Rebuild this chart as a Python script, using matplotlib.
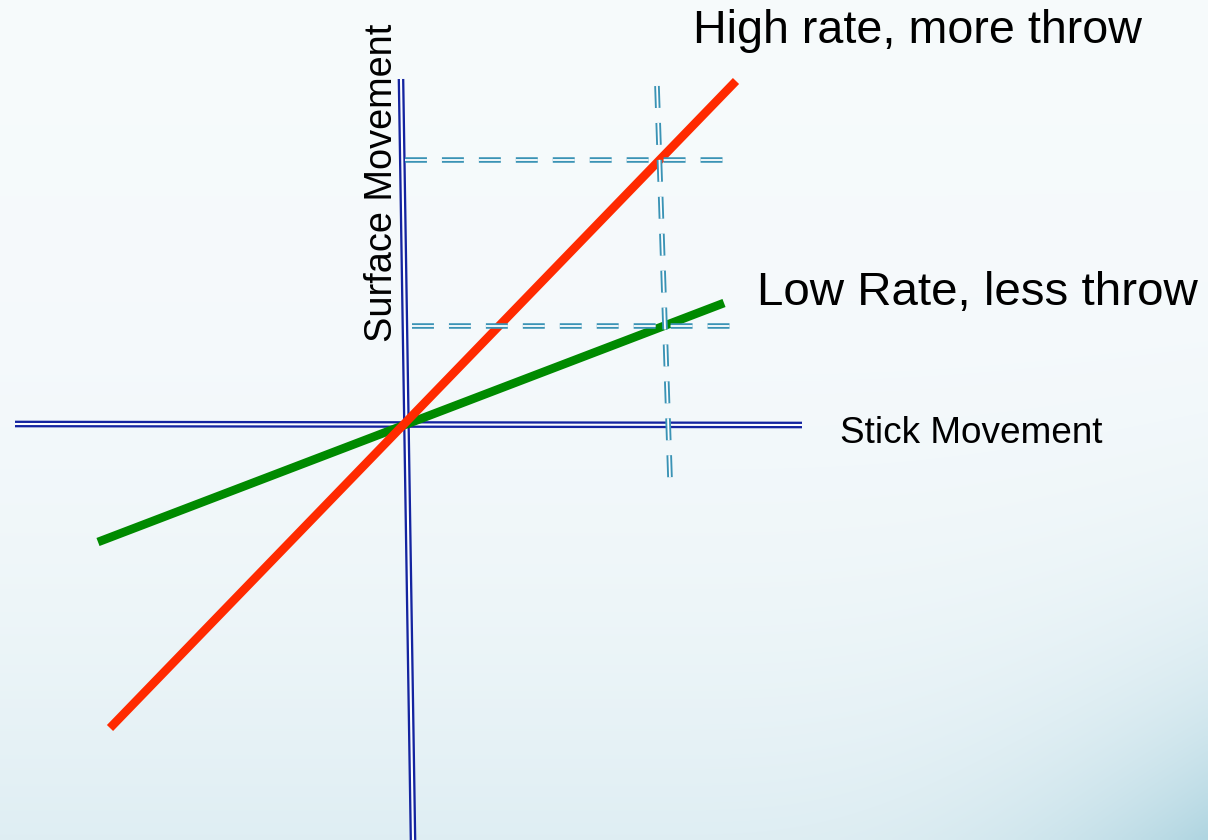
import numpy as np
import matplotlib.pyplot as plt

plt.rcParams['font.family'] = ['Liberation Sans', 'DejaVu Sans']
plt.rcParams['lines.scale_dashes'] = False

W, H = 1208, 840

# axes of the diagram (pixel coords, y down)
stick_axis_x = [15, 802]
stick_axis_y = [424, 425]
surface_axis_x = [401, 413]
surface_axis_y = [79, 840]

# response lines
high_x = [110, 736]
high_y = [728, 81]
low_x = [98, 724]
low_y = [542, 303]

# dashed guides
guide_v_x = [657, 670]
guide_v_y = [86, 478]
guide_high_x = [405, 726]
guide_high_y = [160, 160]
guide_low_x = [412, 734]
guide_low_y = [326, 326]

# labels
title_high = "High rate, more throw"
title_low = "Low Rate, less throw"
xlabel = "Stick Movement"
ylabel = "Surface Movement"

fig = plt.figure(figsize=(W / 100, H / 100), dpi=100)
ax = fig.add_axes([0, 0, 1, 1])
ax.set_xlim(0, W)
ax.set_ylim(H, 0)
ax.axis('off')

# soft background gradient
yy, xx = np.mgrid[0:1:200j, 0:1:300j]
w = 0.3 * yy**3 + 0.6 * np.clip((xx - 0.55) / 0.45, 0, 1)**3 * yy**5
c0 = np.array([0.965, 0.981, 0.988])
c1 = np.array([0.66, 0.82, 0.87])
bg = c0[None, None, :] * (1 - w[..., None]) + c1[None, None, :] * w[..., None]
ax.imshow(bg, extent=[0, W, H, 0], aspect='auto', zorder=0, interpolation='bilinear')

blue = '#1424a0'
teal = '#3a93b5'

def double_line(x, y, color, outer, inner, dashes=None, z=2):
    a, = ax.plot(x, y, color=color, lw=outer, zorder=z, solid_capstyle='butt')
    b, = ax.plot(x, y, color='white', lw=inner, zorder=z + 0.1, solid_capstyle='butt')
    if dashes is not None:
        a.set_dashes(dashes)
        b.set_dashes(dashes)

double_line(stick_axis_x, stick_axis_y, blue, 4.8, 1.5)
double_line(surface_axis_x, surface_axis_y, blue, 4.8, 1.5)

ax.plot(low_x, low_y, color='#008a00', lw=6.2, zorder=3, solid_capstyle='butt')
ax.plot(high_x, high_y, color='#ff2a00', lw=6.2, zorder=4, solid_capstyle='butt')

dash = (15.8, 10.8)
double_line(guide_high_x, guide_high_y, teal, 4.0, 1.3, dash, z=5)
double_line(guide_low_x, guide_low_y, teal, 4.0, 1.3, dash, z=5)
double_line(guide_v_x, guide_v_y, teal, 4.0, 1.3, dash, z=5)

ax.text(693, 43, title_high, fontsize=33.6, ha='left', va='baseline', zorder=6)
ax.text(757, 305, title_low, fontsize=34.2, ha='left', va='baseline', zorder=6)
ax.text(840, 443, xlabel, fontsize=26.6, ha='left', va='baseline', zorder=6)
ax.text(392, 342, ylabel, fontsize=27.3, rotation=90, rotation_mode='anchor',
        ha='left', va='baseline', zorder=6)

fig.savefig('out.png', dpi=100)
